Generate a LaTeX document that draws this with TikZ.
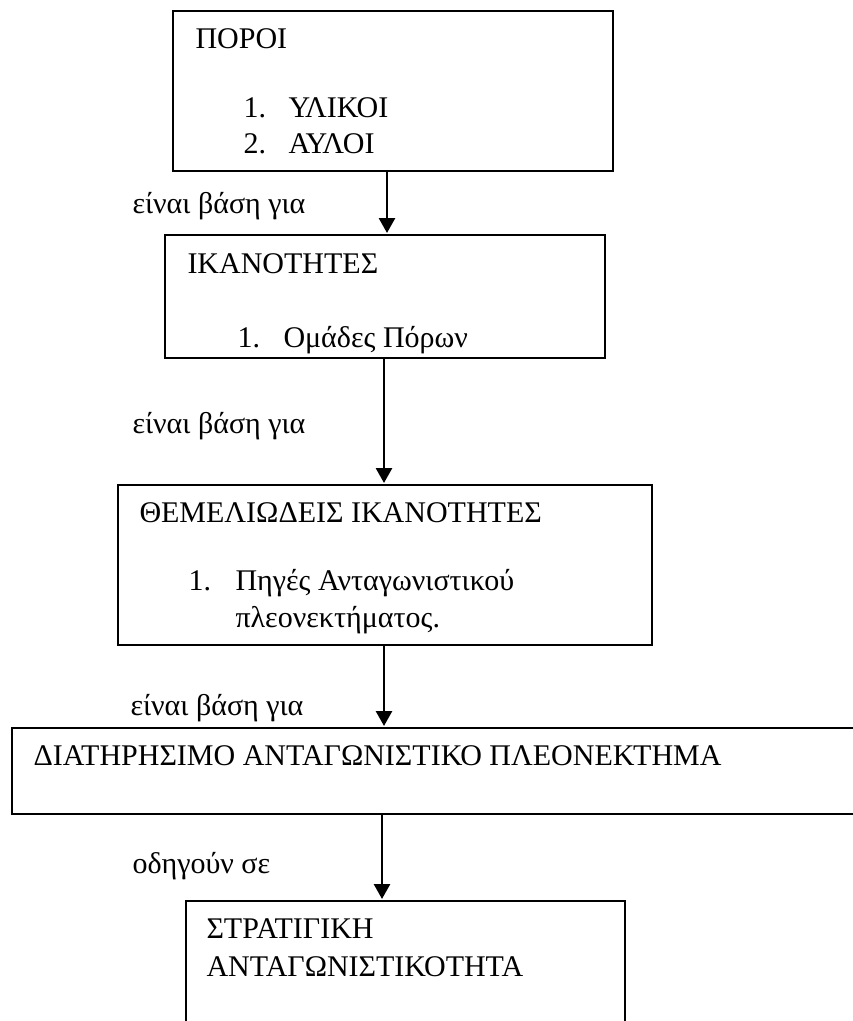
\documentclass[tikz,border=0pt]{standalone}
\usepackage{fontspec}
\setmainfont{Liberation Serif}
\usetikzlibrary{arrows.meta}
\tikzset{
  box/.style={draw, line width=1pt, inner sep=0pt, outer sep=0pt, anchor=north west},
  txt/.style={anchor=base west, inner sep=0pt, font=\fontsize{12}{14.4}\selectfont},
  arr/.style={line width=1.1pt, shorten >=0.8pt, -{Triangle[length=6pt,width=6.4pt]}}
}
\begin{document}
\begin{tikzpicture}[x=0.4pt,y=-0.4pt]
    \clip (0,0) rectangle (853,1021);
    % boxes
    \node[box, minimum width=176pt, minimum height=64pt] (poroi) at (173,11) {};
    \node[box, minimum width=176pt, minimum height=49.2pt] (ikan) at (165,235) {};
    \node[box, minimum width=213.6pt, minimum height=64pt] (themel) at (118,485) {};
    \node[box, minimum width=343.2pt, minimum height=34.4pt] (diatir) at (12,728) {};
    \node[box, minimum width=175.6pt, minimum height=55.6pt] (strat) at (186,901) {};
    % texts
    \node[txt] (poroiT) at (195,48) {ΠΟΡΟΙ};
    \node[txt] (poroiN1) at (243,117) {1.};
    \node[txt] (poroiI1) at (288,117) {ΥΛΙΚΟΙ};
    \node[txt] (poroiN2) at (243,153) {2.};
    \node[txt] (poroiI2) at (288,153) {ΑΥΛΟΙ};
    \node[txt] (ikanT) at (187,273) {ΙΚΑΝΟΤΗΤΕΣ};
    \node[txt] (ikanN1) at (237,347) {1.};
    \node[txt] (ikanI1) at (283,347) {Ομάδες Πόρων};
    \node[txt] (themelT) at (139,522) {ΘΕΜΕΛΙΩΔΕΙΣ ΙΚΑΝΟΤΗΤΕΣ};
    \node[txt] (themelN1) at (188,590) {1.};
    \node[txt] (themelI1) at (235,590) {Πηγές Ανταγωνιστικού};
    \node[txt] (themelI2) at (235,627) {πλεονεκτήματος.};
    \node[txt] (diatirT) at (33,765) {ΔΙΑΤΗΡΗΣΙΜΟ ΑΝΤΑΓΩΝΙΣΤΙΚΟ ΠΛΕΟΝΕΚΤΗΜΑ};
    \node[txt] (stratT1) at (206,938) {ΣΤΡΑΤΙΓΙΚΗ};
    \node[txt] (stratT2) at (206,976) {ΑΝΤΑΓΩΝΙΣΤΙΚΟΤΗΤΑ};
    % labels
    \node[txt] (lblA) at (132,213) {είναι βάση για};
    \node[txt] (lblB) at (132,433) {είναι βάση για};
    \node[txt] (lblC) at (130,715) {είναι βάση για};
    \node[txt] (lblD) at (132,873) {οδηγούν σε};
    % arrows
    \coordinate (a1) at (387,0);
    \coordinate (a2) at (384,0);
    \coordinate (a3) at (384,0);
    \coordinate (a4) at (382,0);
    \draw[arr] (poroi.south -| a1) -- (ikan.north -| a1);
    \draw[arr] (ikan.south -| a2) -- (themel.north -| a2);
    \draw[arr] (themel.south -| a3) -- (diatir.north -| a3);
    \draw[arr] (diatir.south -| a4) -- (strat.north -| a4);
\end{tikzpicture}
\end{document}
